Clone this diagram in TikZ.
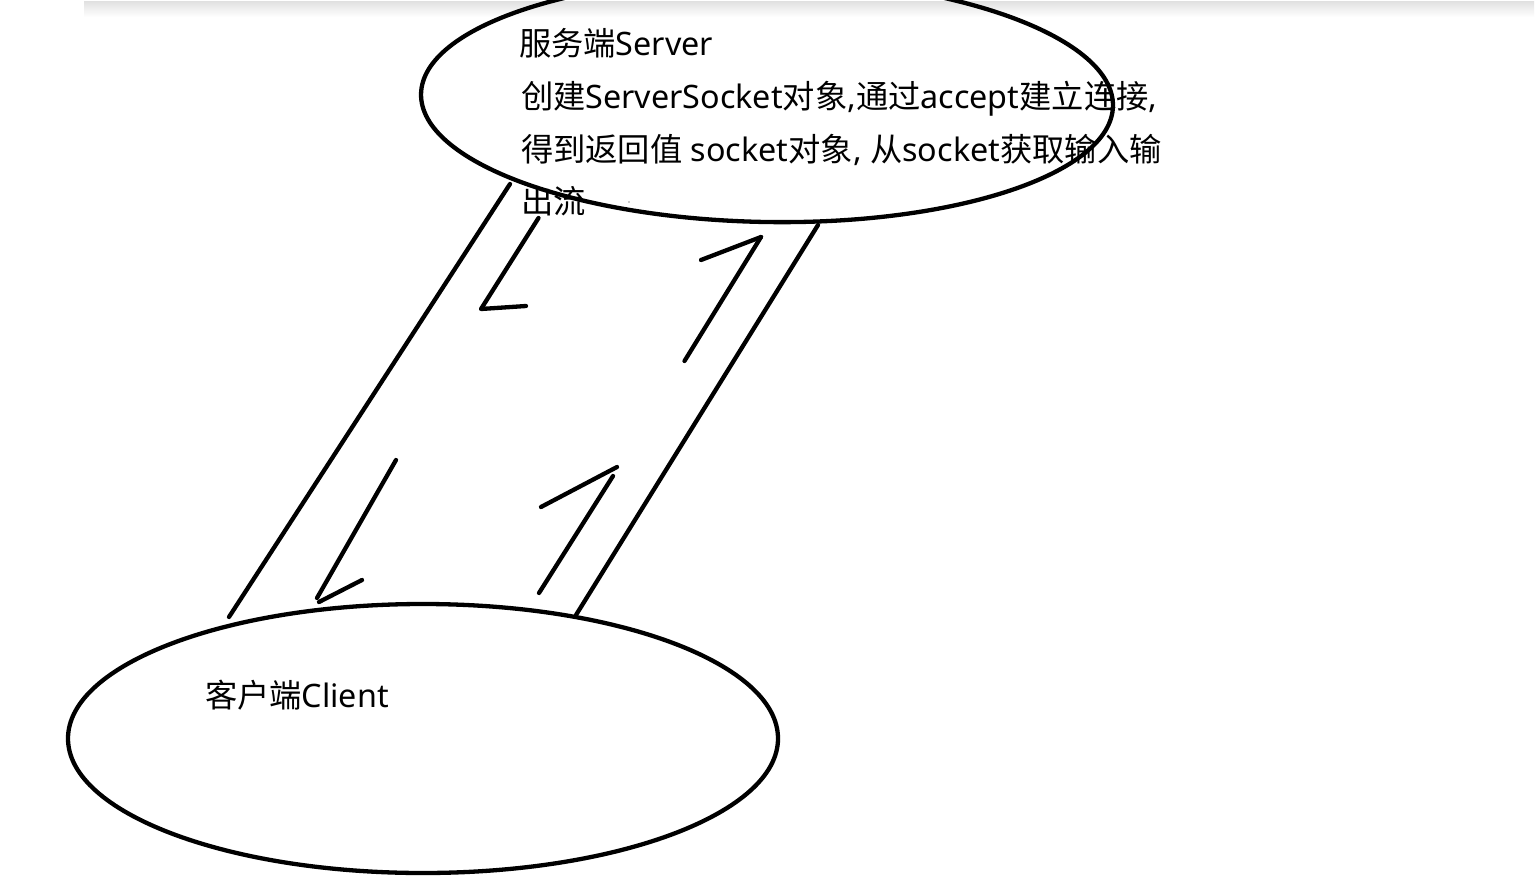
\documentclass[tikz,border=0pt]{standalone}
\usepackage{fontspec}
\setmainfont{Noto Sans}
\newfontfamily\cjkfont{Noto Sans CJK SC}
\newcommand\zh[1]{{\cjkfont #1}}
\usetikzlibrary{shapes.geometric}
\begin{document}
\begin{tikzpicture}[x=1pt,y=-1pt,
  pen/.style={line width=4.3pt, line cap=round, line join=round, black},
  oval/.style={draw, ellipse, line width=4.3pt, inner sep=0pt, outer sep=0pt},
  txt/.style={font=\fontsize{32.3}{38}\selectfont, anchor=base west, inner sep=0pt, outer sep=0pt}]
\useasboundingbox (0,0) rectangle (1540,889);
\clip (0,0) rectangle (1540,889);
\fill[white] (0,0) rectangle (1540,889);
% top shadow band
\shade[top color=black!12, bottom color=white] (84,1) rectangle (1534,17);
% server and client
\node[oval, minimum width=692pt, minimum height=244pt, rotate=-1] (server) at (767,100) {};
\node[oval, minimum width=710pt, minimum height=269pt] (client) at (423,738.5) {};
% texts
\node[txt] (s1) at (519,55) {\zh{服务端}Server};
\node[txt] (s2) at (521,108) {\zh{创建}ServerSocket\zh{对象},\zh{通过}accept\zh{建立连接},};
\node[txt] (s3) at (521,161) {\zh{得到返回值} socket\zh{对象}, \zh{从}socket\zh{获取输入输}};
\node[txt] (s4) at (521,213.5) {\zh{出流}};
\node[txt] (c1) at (205,707) {\zh{客户端}Client};
\fill[black!40] (629,202) circle (0.8);
% channel lines
\coordinate (la) at (510,184);
\coordinate (lb) at (229,617);
\coordinate (ra) at (818,225);
\coordinate (rb) at (576,615);
\draw[pen] (la) -- (lb);
\draw[pen] (ra) -- (rb);
% upper left arrow
\coordinate (a1) at (538.5,218);
\coordinate (a2) at (481,309);
\coordinate (a3) at (526,306);
\draw[pen] (a1) -- (a2) -- (a3);
% upper right arrow
\coordinate (b1) at (684.5,361);
\coordinate (b2) at (761,237);
\coordinate (b3) at (701,260);
\draw[pen] (b1) -- (b2);
\draw[pen] (b3) -- (b2);
% lower left arrow
\coordinate (c1a) at (396,460);
\coordinate (c1b) at (317,598);
\coordinate (c2a) at (319,602);
\coordinate (c2b) at (362,580);
\draw[pen] (c1a) -- (c1b);
\draw[pen] (c2a) -- (c2b);
% lower right arrow
\coordinate (d1) at (539,593);
\coordinate (d2) at (613,476);
\coordinate (d3) at (541,507);
\coordinate (d4) at (617,467);
\draw[pen] (d1) -- (d2);
\draw[pen] (d3) -- (d4);
\end{tikzpicture}
\end{document}
